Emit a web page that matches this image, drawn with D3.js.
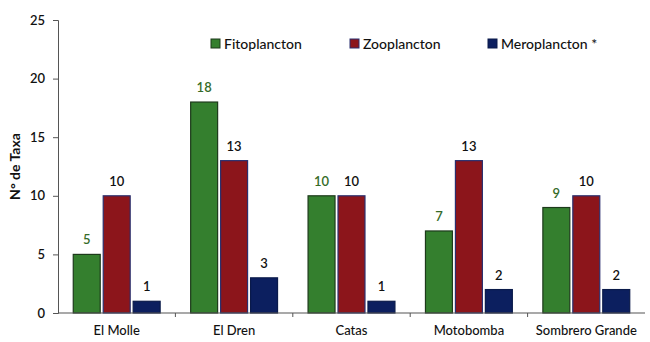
<!DOCTYPE html>
<html>
<head>
<meta charset="utf-8">
<script src="https://cdn.jsdelivr.net/npm/d3@7"></script>
<style>
  html, body { margin: 0; padding: 0; background: #fff; }
  svg { display: block; font-family: Lato, "Open Sans", sans-serif; }
</style>
</head>
<body>
<svg id="chart" width="650" height="342"></svg>
<script>
// Número de taxa por estación y grupo planctónico
const stations = ["El Molle", "El Dren", "Catas", "Motobomba", "Sombrero Grande"];
const seriesNames = ["Fitoplancton", "Zooplancton", "Meroplancton *"];
const fitoplancton = [5, 18, 10, 7, 9];
const zooplancton = [10, 13, 10, 13, 10];
const meroplancton = [1, 3, 1, 2, 2];
const yTicks = [0, 5, 10, 15, 20, 25];

const fills = ["#347f2e", "#8c151b", "#0c1f5f"];
const strokes = ["#1d3a1b", "#2a2f6e", "#0a1a4a"];
const labelColors = ["#356b28", "#111", "#111"];

const seriesValues = [fitoplancton, zooplancton, meroplancton];

const svg = d3.select("#chart");
const margin = { left: 58, right: 5, top: 20, bottom: 29 };
const W = 650, H = 342;

const x = d3.scaleBand().domain(stations).range([margin.left, W - margin.right]).paddingInner(0).paddingOuter(0);
const y = d3.scaleLinear().domain([0, 25]).range([H - margin.bottom, margin.top]);

const groupPad = 0.13;
const xs = d3.scaleBand().domain(d3.range(seriesNames.length))
  .range([x.bandwidth() * groupPad, x.bandwidth() * (1 - groupPad)])
  .paddingInner(0.1);

// Barras
const groups = svg.append("g").selectAll("g").data(stations).join("g")
  .attr("transform", d => `translate(${x(d)},0)`);

groups.each(function(st, i) {
  const g = d3.select(this);
  seriesValues.forEach((vals, s) => {
    const v = vals[i];
    g.append("rect")
      .attr("x", xs(s)).attr("width", xs.bandwidth())
      .attr("y", y(v)).attr("height", y(0) - y(v))
      .attr("fill", fills[s]).attr("stroke", strokes[s]).attr("stroke-width", 1.2);
    g.append("text")
      .attr("x", xs(s) + xs.bandwidth() / 2)
      .attr("y", y(v) - 10)
      .attr("text-anchor", "middle")
      .attr("font-size", 13).attr("font-weight", 600)
      .attr("fill", labelColors[s])
      .text(v);
  });
});

// Eje Y
const yAxis = svg.append("g").attr("transform", `translate(${margin.left},0)`)
  .call(d3.axisLeft(y).tickValues(yTicks).tickSize(5).tickPadding(8));
yAxis.select(".domain").attr("stroke", "#555");
yAxis.selectAll(".tick line").attr("stroke", "#555");
yAxis.selectAll("text").attr("font-size", 13).attr("font-weight", 600).attr("fill", "#111")
  .style("font-family", "Lato, 'Open Sans', sans-serif");

// Eje X con marcas entre estaciones
const xAxis = svg.append("g").attr("transform", `translate(0,${y(0)})`);
xAxis.append("line").attr("x1", margin.left).attr("x2", W - margin.right)
  .attr("y1", 0).attr("y2", 0).attr("stroke", "#555").attr("stroke-width", 1.2);
xAxis.selectAll(".sep").data(stations.slice(1)).join("line")
  .attr("x1", d => x(d)).attr("x2", d => x(d)).attr("y1", 0).attr("y2", 4)
  .attr("stroke", "#555");
xAxis.selectAll(".lbl").data(stations).join("text")
  .attr("x", d => x(d) + x.bandwidth() / 2)
  .attr("y", 22)
  .attr("text-anchor", "middle")
  .attr("font-size", 13).attr("font-weight", 500).attr("fill", "#111")
  .text(d => d);

// Título del eje Y
svg.append("text")
  .attr("transform", `translate(20,${(y(0) + y(25)) / 2}) rotate(-90)`)
  .attr("text-anchor", "middle")
  .attr("font-size", 14).attr("font-weight", 700).attr("fill", "#111")
  .text("N° de Taxa");

// Leyenda
const legendX = [211, 350, 488];
const legend = svg.append("g");
seriesNames.forEach((name, s) => {
  legend.append("rect").attr("x", legendX[s]).attr("y", 39).attr("width", 9).attr("height", 9)
    .attr("fill", fills[s]).attr("stroke", strokes[s]).attr("stroke-width", 1);
  legend.append("text").attr("x", legendX[s] + 13).attr("y", 49)
    .attr("font-size", 14).attr("font-weight", 500).attr("fill", "#111")
    .text(name);
});
</script>
</body>
</html>
